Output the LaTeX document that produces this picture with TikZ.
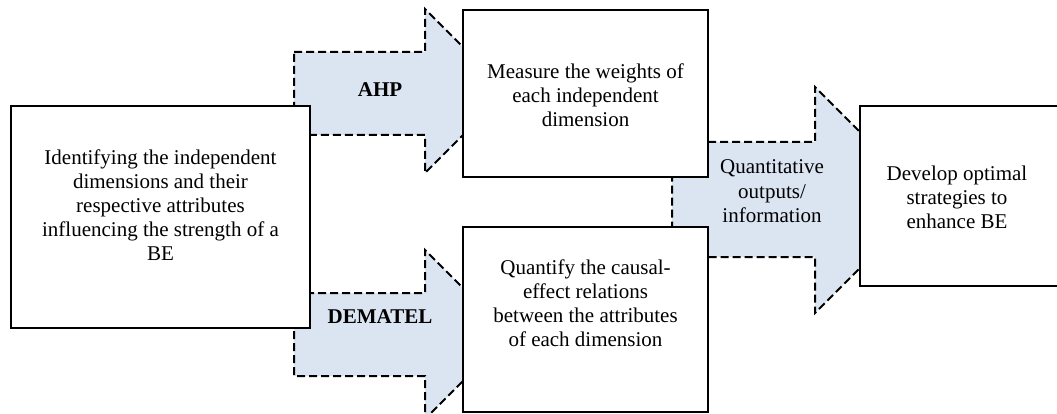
\documentclass[tikz,border=0pt]{standalone}
\usepackage{fontspec}
\setmainfont{Liberation Serif}
\definecolor{arrowfill}{RGB}{219,228,241}
\begin{document}
\begin{tikzpicture}[x=1pt,y=-1pt,
  blockarrow/.style={fill=arrowfill,draw=black,line width=2pt,dash pattern=on 8pt off 4pt,line join=miter},
  boxnode/.style={draw=black,fill=white,line width=2pt,inner sep=0pt},
  txt/.style={align=center,inner sep=0pt,font=\fontsize{21}{24}\selectfont},
  lbl/.style={align=center,inner sep=0pt,font=\fontsize{21}{24.5}\selectfont}]
\useasboundingbox (0,0) rectangle (1057,414);
% block arrows
\draw[blockarrow] (294,52) -- (425,52) -- (425,9) -- (507,91) -- (425,173) -- (425,135) -- (294,135) -- cycle;
\draw[blockarrow] (294,293) -- (425,293) -- (425,250) -- (509.5,334.5) -- (425,419) -- (425,376) -- (294,376) -- cycle;
\draw[blockarrow] (672,142) -- (815,142) -- (815,87) -- (928,200) -- (815,313) -- (815,257) -- (672,257) -- cycle;
% boxes
\node[boxnode,minimum width=299pt,minimum height=222pt] (identify) at (160.5,217) {};
\node[boxnode,minimum width=245pt,minimum height=167pt] (measure) at (585.5,93.5) {};
\node[boxnode,minimum width=245pt,minimum height=185pt] (quantify) at (585.5,319.5) {};
\node[boxnode,minimum width=210pt,minimum height=180pt] (develop) at (965,196) {};
% texts
\node[txt] (identifytext) at (160.5,205) {Identifying the independent\\dimensions and their\\respective attributes\\influencing the strength of a\\BE};
\node[txt] (measuretext) at (585.5,95) {Measure the weights of\\each independent\\dimension};
\node[txt] (quantifytext) at (585.5,303) {Quantify the causal-\\effect relations\\between the attributes\\of each dimension};
\node[txt] (developtext) at (957,197) {Develop optimal\\strategies to\\enhance BE};
\node[txt,font=\fontsize{21}{24}\selectfont\bfseries] (ahp) at (380,90) {AHP};
\node[txt,font=\fontsize{21}{24}\selectfont\bfseries] (dematel) at (380,317) {DEMATEL};
\node[lbl] (quant) at (772,191.5) {Quantitative\\outputs/\\information};
\end{tikzpicture}
\end{document}
